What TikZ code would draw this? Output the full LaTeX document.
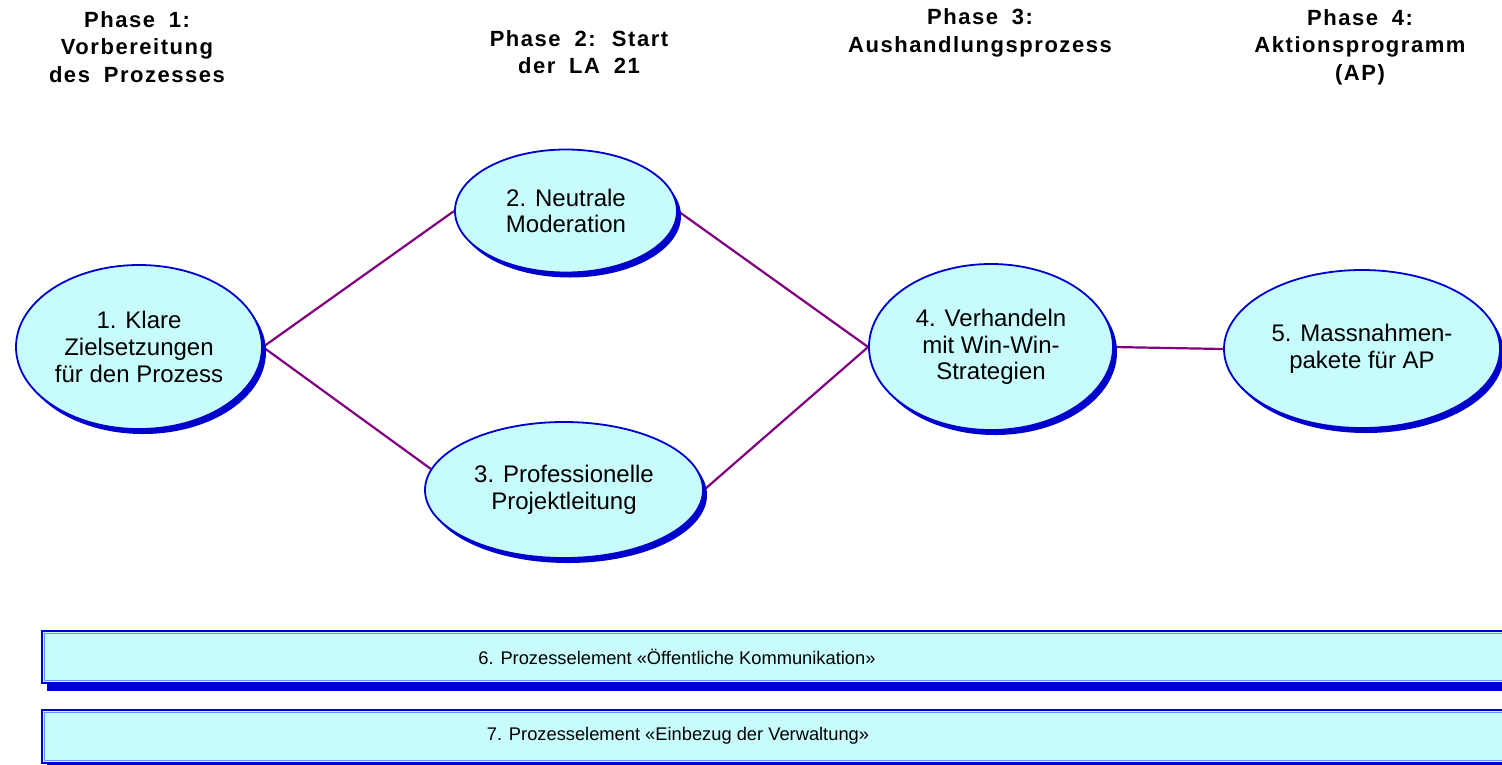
\documentclass[tikz,border=0pt]{standalone}
\usepackage{fontspec}
\setmainfont{Liberation Sans}
\newfontfamily\hdrfont[LetterSpace=7,WordSpace=1.8]{Liberation Sans}
\usetikzlibrary{shapes.geometric,shadows,backgrounds}
\definecolor{cfill}{RGB}{200,252,252}
\definecolor{cblue}{RGB}{0,0,204}
\definecolor{clight}{RGB}{100,150,255}
\definecolor{cline}{RGB}{128,0,128}
\begin{document}
\begin{tikzpicture}[x=1pt,y=-1pt,
  oval/.style={ellipse, draw=cblue, line width=1.8pt, fill=cfill, inner sep=0pt,
    align=center, font=\fontsize{24}{26.7}\selectfont,
    drop shadow={shadow xshift=4pt, shadow yshift=-5pt, fill=cblue, opacity=1}},
  link/.style={draw=cline, line width=2.2pt},
  hdr/.style={align=center, font=\hdrfont\bfseries\fontsize{22}{27.6}\selectfont, inner sep=0pt},
  bartext/.style={font=\fontsize{18.3}{21}\selectfont, inner sep=0pt},
  barbox/.style={fill=cfill, draw=cblue, line width=2pt},
  barinner/.style={draw=clight, line width=1pt}]
\useasboundingbox (0,0) rectangle (1502,764);
\clip (0,0) rectangle (1502,764);

% headers
\node[hdr] (h1) at (137,47) {Phase 1:\\Vorbereitung\\des Prozesses};
\node[hdr] (h2) at (579,52) {Phase 2: Start\\der LA 21};
\node[hdr] (h3) at (980,33) {Phase 3:\\Aushandlungsprozess};
\node[hdr] (h4) at (1360,47) {Phase 4:\\Aktionsprogramm\\(AP)};

% ellipses
\node[oval, minimum width=246, minimum height=164] (e1) at (139,347) {1. Klare\\Zielsetzungen\\für den Prozess};
\node[oval, minimum width=222, minimum height=123] (e2) at (566,211) {2. Neutrale\\Moderation};
\node[oval, minimum width=278, minimum height=136] (e3) at (564,490) {3. Professionelle\\Projektleitung};
\node[oval, minimum width=244, minimum height=166] (e4) at (991,347) {4. Verhandeln\\mit Win-Win-\\Strategien};
\node[oval, minimum width=276, minimum height=158] (e5) at (1362,349) {5. Massnahmen-\\pakete für AP};

\begin{pgfonlayer}{background}
\draw[link] (e1.east) -- (e2.west);
\draw[link] (e1.east) -- (e3.171);
\draw[link] (e2.east) -- (e4.west);
\draw[link] (e3.east) -- (e4.west);
\draw[link] (e4.east) -- (e5.west);
\end{pgfonlayer}

% bars
\path[fill=cblue] (47,683) rectangle (1510,691);
\path[barbox] (42,631) rectangle (1510,683);
\path[barinner] (44.5,633.5) rectangle (1510,680.5);
\node[bartext] (t6) at (677,657) {6. Prozesselement «Öffentliche Kommunikation»};

\path[fill=cblue] (47,763) rectangle (1510,771);
\path[barbox] (42,710) rectangle (1510,763);
\path[barinner] (44.5,712.5) rectangle (1510,760.5);
\node[bartext] (t7) at (678,736) {7. Prozesselement «Einbezug der Verwaltung»};
\end{tikzpicture}
\end{document}
